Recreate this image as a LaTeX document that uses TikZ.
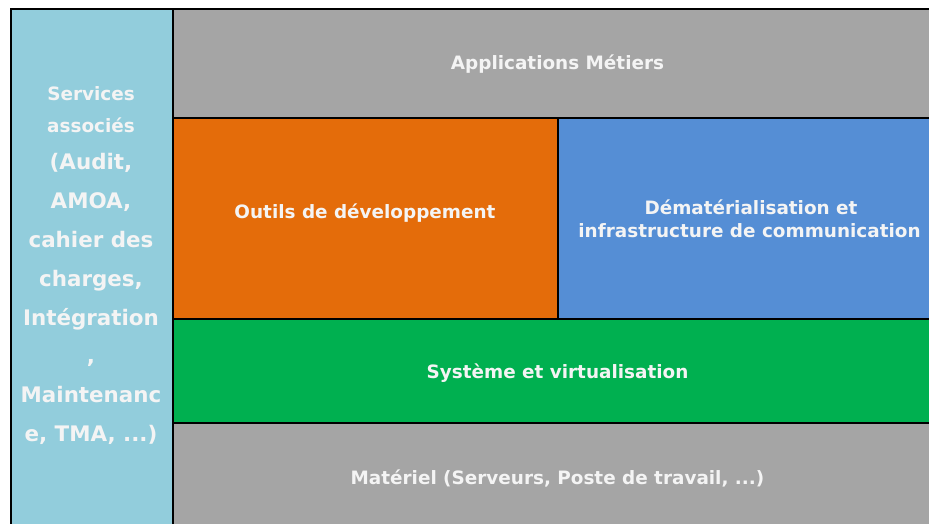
\documentclass[tikz,border=0pt]{standalone}
\usepackage{fontspec}
\setmainfont{DejaVu Sans}
\definecolor{lb}{HTML}{92CDDC}
\definecolor{gr}{HTML}{A5A5A5}
\definecolor{orng}{HTML}{E46C0A}
\definecolor{blu}{HTML}{558ED5}
\definecolor{grn}{HTML}{00B050}
\definecolor{txt}{HTML}{F4F4F4}
\begin{document}
\begin{tikzpicture}[x=1pt,y=-1pt,
  box/.style={draw=black, line width=2pt, inner sep=0pt, anchor=north west},
  lbl/.style={text=txt, font=\bfseries\fontsize{18.4}{22}\selectfont, inner sep=0pt, anchor=base},
  big/.style={lbl, font=\bfseries\fontsize{21.4}{26}\selectfont}]
\clip (0,0) rectangle (929,524);
\fill[white] (0,0) rectangle (929,524);
% boxes
\node[box, fill=gr,   minimum width=771pt, minimum height=109pt] (app)   at (172,8)   {};
\node[box, fill=orng, minimum width=385pt, minimum height=201pt] (outil) at (172,117) {};
\node[box, fill=blu,  minimum width=386pt, minimum height=201pt] (demat) at (557,117) {};
\node[box, fill=grn,  minimum width=771pt, minimum height=104pt] (sys)   at (172,318) {};
\node[box, fill=gr,   minimum width=771pt, minimum height=120pt] (mat)   at (172,422) {};
\node[box, fill=lb,   minimum width=162pt, minimum height=540pt] (svc)   at (10,8)    {};
% labels
\node[lbl] (tapp) at (557.5,69.7) {Applications Métiers};
\node[lbl] (tout) at (365,218.7) {Outils de développement};
\node[lbl] (tde1) at (751,214) {Dématérialisation et};
\node[lbl] (tde2) at (749.5,237) {infrastructure de communication};
\node[lbl] (tsys) at (557.5,378) {Système et virtualisation};
\node[lbl] (tmat) at (557.5,484) {Matériel (Serveurs, Poste de travail, ...)};
% left column
\node[lbl] (s1) at (91,101) {Services};
\node[lbl] (s2) at (91,132) {associés};
\node[big] (s3) at (91,170) {(Audit,};
\node[big] (s4) at (91,208.7) {AMOA,};
\node[big] (s5) at (91,247.5) {cahier des};
\node[big] (s6) at (91,286.3) {charges,};
\node[big] (s7) at (91,325) {Intégration};
\node[big] (s8) at (91,363.9) {,};
\node[big] (s9) at (91,402.7) {Maintenanc};
\node[big] (s10) at (91,441.5) {e, TMA, ...)};
\end{tikzpicture}
\end{document}
